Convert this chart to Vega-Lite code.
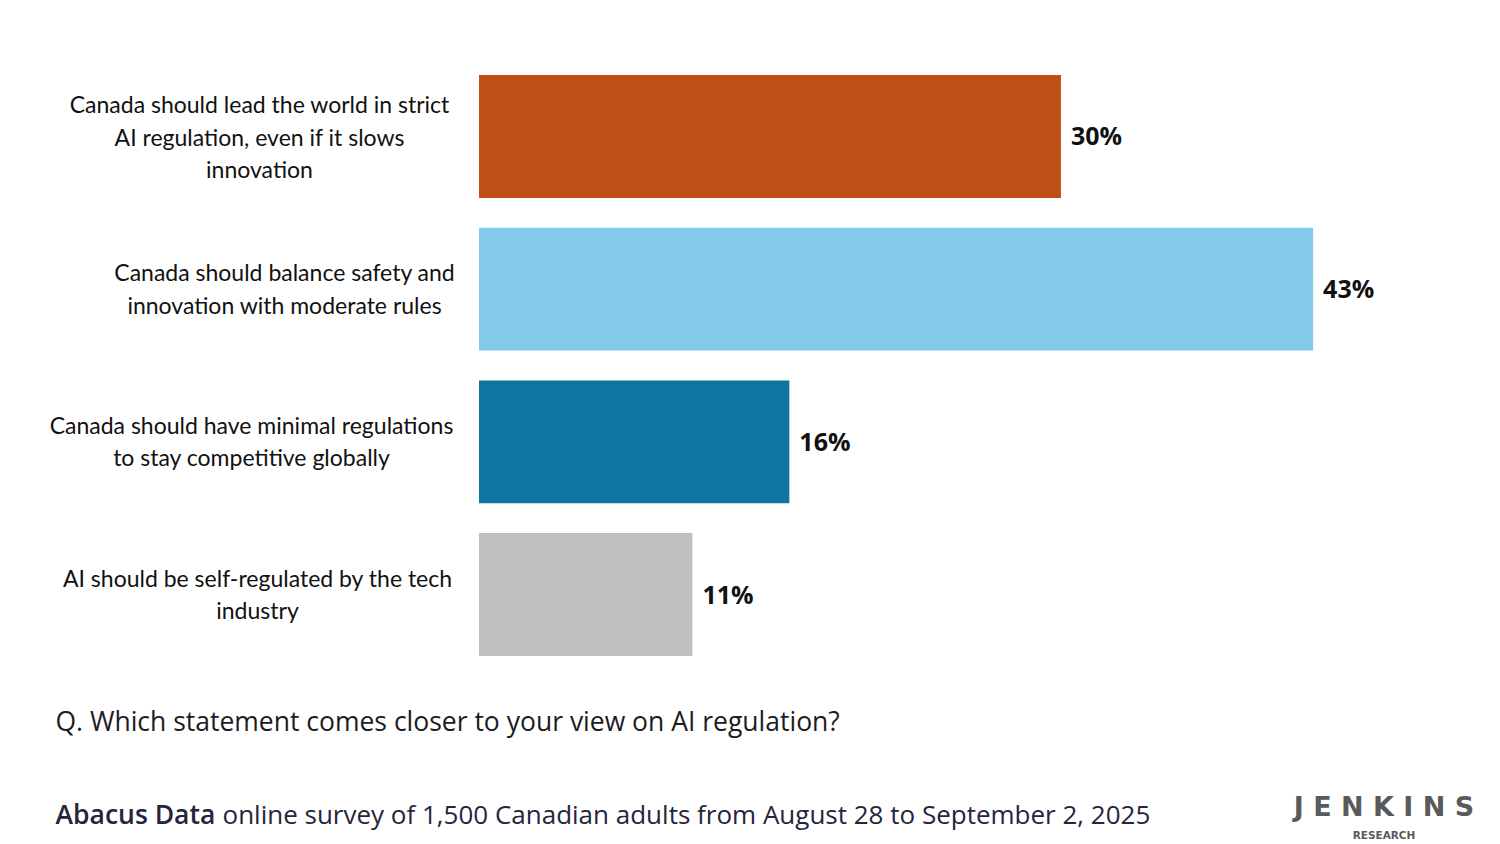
{
  "$schema": "https://vega.github.io/schema/vega-lite/v6.json",
  "width": 999,
  "height": 581,
  "autosize": {"type": "none"},
  "padding": {"left": 479, "top": 75, "right": 22, "bottom": 188},
  "background": "white",
  "config": {"view": {"stroke": null}},
  "title": {
    "text": "J E N K I N S",
    "subtitle": "RESEARCH",
    "orient": "top",
    "anchor": "end",
    "frame": "group",
    "align": "center",
    "baseline": "top",
    "dx": -94,
    "dy": 767,
    "offset": 0,
    "font": "DejaVu Sans",
    "fontSize": 27,
    "fontWeight": "bold",
    "color": "#5a5a5c",
    "subtitleFont": "DejaVu Sans",
    "subtitleFontSize": 10.5,
    "subtitleFontWeight": "bold",
    "subtitleColor": "#5a5a5c",
    "subtitlePadding": 9
  },
  "data": {
    "values": [
      {"statement": "Canada should lead the world in strict|AI regulation, even if it slows|innovation", "pct": 0.30},
      {"statement": "Canada should balance safety and|innovation with moderate rules", "pct": 0.43},
      {"statement": "Canada should have minimal regulations|to stay competitive globally", "pct": 0.16},
      {"statement": "AI should be self-regulated by the tech|industry", "pct": 0.11}
    ]
  },
  "encoding": {
    "x": {
      "field": "pct",
      "type": "quantitative",
      "scale": {"domain": [0, 0.515], "nice": false},
      "axis": {
        "title": "Q. Which statement comes closer to your view on AI regulation?",
        "titleFont": "Open Sans",
        "titleFontSize": 26.5,
        "titleFontWeight": "normal",
        "titleColor": "#1c1c22",
        "titleAlign": "left",
        "titleAnchor": "start",
        "titleBaseline": "middle",
        "titleX": -424,
        "titleY": 66,
        "domain": false,
        "ticks": false,
        "labels": false,
        "grid": false
      }
    }
  },
  "resolve": {"axis": {"y": "independent"}},
  "layer": [
    {
      "mark": {"type": "bar"},
      "encoding": {
        "y": {
          "field": "statement",
          "type": "nominal",
          "sort": null,
          "scale": {"paddingInner": 0.195, "paddingOuter": 0},
          "axis": {
            "orient": "left",
            "title": "Abacus Data",
            "titleFont": "Open Sans",
            "titleFontSize": 26.5,
            "titleFontWeight": 600,
            "titleColor": "#25253b",
            "titleAngle": 0,
            "titleAlign": "left",
            "titleBaseline": "middle",
            "titleX": -424,
            "titleY": 740,
            "domain": false,
            "ticks": false,
            "tickSize": 0,
            "labelExpr": "split(datum.label, '|')",
            "labelAlign": "center",
            "labelBaseline": "middle",
            "labelFont": "Lato",
            "labelFontSize": 23,
            "labelColor": "#111111",
            "labelLineHeight": 32.5,
            "labelLimit": 0,
            "labelOffset": {
              "condition": {"test": "indexof(datum.value, 'lead the world') >= 0", "value": -30},
              "value": -15
            },
            "labelPadding": {
              "condition": [
                {"test": "indexof(datum.value, 'lead the world') >= 0", "value": 220},
                {"test": "indexof(datum.value, 'balance') >= 0", "value": 195},
                {"test": "indexof(datum.value, 'minimal') >= 0", "value": 228}
              ],
              "value": 222
            }
          }
        },
        "color": {
          "field": "statement",
          "type": "nominal",
          "sort": null,
          "scale": {"range": ["#C04F16", "#83CAEA", "#0E76A0", "#BFBFBF"]},
          "legend": null
        }
      }
    },
    {
      "mark": {"type": "text", "align": "left", "baseline": "middle", "dx": 10, "dy": 1, "font": "Open Sans", "fontWeight": "bold", "fontSize": 25, "color": "#111111"},
      "encoding": {
        "y": {
          "field": "statement",
          "type": "nominal",
          "sort": null,
          "axis": {
            "orient": "right",
            "title": "online survey of 1,500 Canadian adults from August 28 to September 2, 2025",
            "titleFont": "Open Sans",
            "titleFontSize": 26,
            "titleFontWeight": "normal",
            "titleColor": "#25253b",
            "titleAngle": 0,
            "titleAlign": "left",
            "titleBaseline": "middle",
            "titleX": -1256,
            "titleY": 740,
            "domain": false,
            "ticks": false,
            "labels": false,
            "grid": false
          }
        },
        "text": {"field": "pct", "type": "quantitative", "format": ".0%"}
      }
    }
  ]
}
